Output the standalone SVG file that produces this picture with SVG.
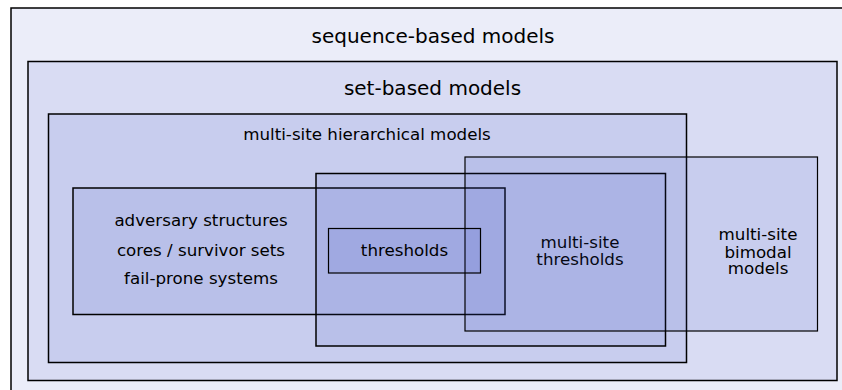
<svg xmlns="http://www.w3.org/2000/svg" width="842" height="390" viewBox="0 0 842 390">
<style>
.box{fill:rgb(60,75,200);fill-opacity:0.1;stroke:#000;stroke-width:1.5}
.thin{stroke-width:1.2}
text{font-family:"DejaVu Sans","Liberation Sans",sans-serif;fill:#000;text-anchor:middle}
.big{font-size:20px}
.mid{font-size:16.7px}
</style>
<rect width="842" height="390" fill="#fff"/>
<g id="sequence-based">
<rect class="box" x="11" y="8" width="840" height="392"/>
<text class="big" x="433" y="43">sequence-based models</text>
</g>
<g id="set-based">
<rect class="box" x="28" y="61.5" width="809" height="319"/>
<text class="big" x="432.5" y="95">set-based models</text>
</g>
<g id="hierarchical">
<rect class="box" x="48.5" y="114" width="638" height="248.5"/>
<text class="mid" x="367" y="140">multi-site hierarchical models</text>
</g>
<g id="adversary">
<rect class="box" x="73" y="188" width="432" height="126.5"/>
<text class="mid" x="201" y="226">adversary structures</text>
<text class="mid" x="201" y="256">cores / survivor sets</text>
<text class="mid" x="201" y="283.5">fail-prone systems</text>
</g>
<g id="multisite-thresholds">
<rect class="box" x="316" y="173.5" width="349.5" height="172.5"/>
<text class="mid" x="580" y="247.5">multi-site</text>
<text class="mid" x="580" y="265">thresholds</text>
</g>
<g id="bimodal">
<rect class="box thin" x="465" y="157" width="352.5" height="174"/>
<text class="mid" x="758" y="240">multi-site</text>
<text class="mid" x="758" y="257.5">bimodal</text>
<text class="mid" x="758" y="273.5">models</text>
</g>
<g id="thresholds">
<rect class="box thin" x="328.5" y="228.5" width="152" height="44.5"/>
<text class="mid" x="404.5" y="256">thresholds</text>
</g>
</svg>
